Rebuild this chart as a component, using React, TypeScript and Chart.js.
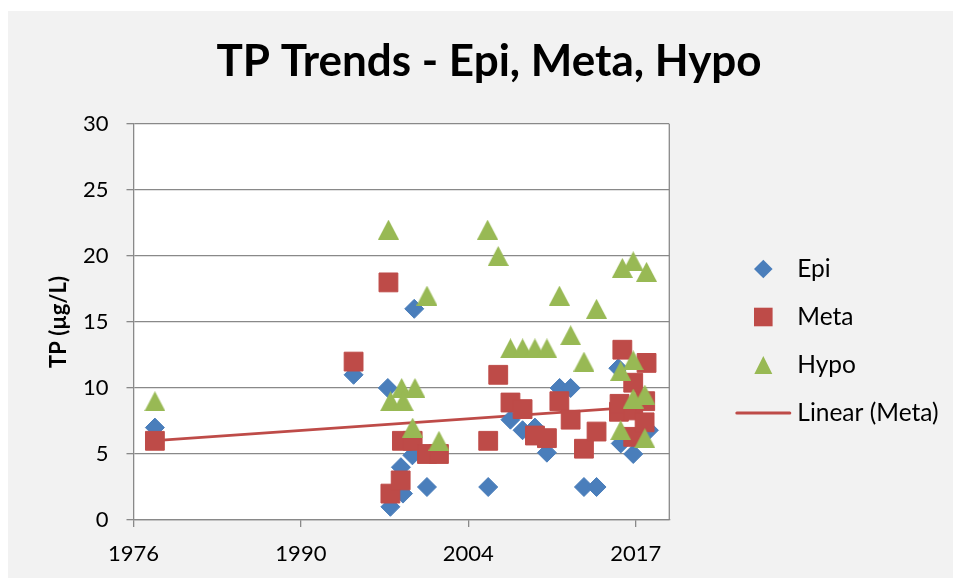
import React, { useEffect, useRef } from 'react';
import { Chart, registerables } from 'chart.js';

Chart.register(...registerables);

// ---------- data ----------
const TITLE = 'TP Trends - Epi, Meta, Hypo';
const Y_TITLE = 'TP (µg/L)';
const SERIES_NAMES = ['Epi', 'Meta', 'Hypo', 'Linear (Meta)'];

const epiYears = [1978.5, 1994.75, 1997.55, 1997.76, 1998.62, 1998.79, 1999.56, 1999.71, 2000.75, 2005.76, 2007.58, 2008.57, 2009.58, 2010.56, 2011.6, 2012.5, 2013.59, 2014.62, 2016.4, 2016.6, 2017.62, 2018.9];
const epiValues = [7, 11, 10, 1, 4, 2, 4.9, 16, 2.5, 2.5, 7.6, 6.8, 7.0, 5.1, 10, 10, 2.5, 2.5, 11.5, 5.8, 5.0, 6.8];

const metaYears = [1978.5, 1994.75, 1997.6, 1997.76, 1998.6, 1998.7, 1999.58, 2000.75, 2001.73, 2005.76, 2006.58, 2007.58, 2008.57, 2009.58, 2010.56, 2011.58, 2012.5, 2013.59, 2014.62, 2016.45, 2016.5, 2016.73, 2017.62, 2017.62, 2017.62, 2018.55, 2018.6, 2018.71];
const metaValues = [6, 12, 18, 2, 3, 6, 6, 5, 5, 6, 11, 8.9, 8.4, 6.4, 6.2, 9.0, 7.6, 5.4, 6.7, 8.2, 8.8, 12.9, 10.4, 8.3, 6.3, 7.4, 9.0, 11.9];

const hypoYears = [1978.5, 1997.6, 1997.77, 1998.68, 1998.81, 1999.58, 1999.77, 2000.75, 2001.73, 2005.71, 2006.58, 2007.58, 2008.57, 2009.58, 2010.56, 2011.58, 2012.5, 2013.59, 2014.62, 2016.59, 2016.59, 2016.73, 2017.62, 2017.62, 2017.62, 2018.57, 2018.57, 2018.71];
const hypoValues = [9, 22, 9, 10, 9, 7, 10, 17, 6, 22, 20, 13, 13, 13, 13, 17, 14, 12, 16, 11.3, 6.8, 19.1, 19.6, 12.1, 9.2, 9.5, 6.2, 18.8];

// x axis: date axis, 5000-day major unit
const X_MIN = 1976.75;
const X_MAX = 2020.57;
const X_STEP = 5000 / 365.25;
const xTickLabels = ['1976', '1990', '2004', '2017'];

const Y_MIN = 0;
const Y_MAX = 30;
const Y_STEP = 5;

// ---------- style ----------
const EPI_COLOR = '#4A7EBB';
const META_COLOR = '#BE4B48';
const HYPO_COLOR = '#98B954';
const GRID = '#898989';
const FONT = 'Lato';

function pts(xs: number[], ys: number[]) {
  return xs.map((x, i) => ({ x, y: ys[i] }));
}

function linearFit(xs: number[], ys: number[]) {
  const n = xs.length;
  const mx = xs.reduce((a, b) => a + b, 0) / n;
  const my = ys.reduce((a, b) => a + b, 0) / n;
  let sxy = 0;
  let sxx = 0;
  for (let i = 0; i < n; i++) {
    sxy += (xs[i] - mx) * (ys[i] - my);
    sxx += (xs[i] - mx) * (xs[i] - mx);
  }
  const b = sxy / sxx;
  const a = my - b * mx;
  const x0 = Math.min(...xs);
  const x1 = Math.max(...xs);
  return [
    { x: x0, y: a + b * x0 },
    { x: x1, y: a + b * x1 },
  ];
}

function makeTriangle(color: string, w: number, h: number) {
  const c = document.createElement('canvas');
  c.width = w;
  c.height = h;
  const g = c.getContext('2d')!;
  g.fillStyle = color;
  g.beginPath();
  g.moveTo(w / 2, 0);
  g.lineTo(w, h);
  g.lineTo(0, h);
  g.closePath();
  g.fill();
  return c;
}

const backgroundPlugin = {
  id: 'bgPlot',
  beforeDraw(chart: any) {
    const { ctx, chartArea, width, height } = chart;
    ctx.save();
    ctx.fillStyle = '#F2F2F2';
    ctx.fillRect(0, 0, width, height);
    ctx.fillStyle = '#FFFFFF';
    ctx.fillRect(chartArea.left, chartArea.top, chartArea.right - chartArea.left, chartArea.bottom - chartArea.top);
    ctx.restore();
  },
  beforeDatasetsDraw(chart: any) {
    const { ctx, chartArea } = chart;
    ctx.save();
    ctx.strokeStyle = GRID;
    ctx.lineWidth = 1.3;
    ctx.beginPath();
    ctx.moveTo(chartArea.right, chartArea.top);
    ctx.lineTo(chartArea.right, chartArea.bottom);
    ctx.stroke();
    ctx.restore();
  },
};

const legendPlugin = {
  id: 'sideLegend',
  afterDraw(chart: any) {
    const { ctx, chartArea } = chart;
    const cx = chartArea.right + 94;
    const textX = chartArea.right + 128;
    const y0 = chartArea.top + 145;
    const step = 48;
    chart.data.datasets.forEach((ds: any, i: number) => {
      const y = y0 + i * step;
      const kind = ds.legendKind;
      ctx.save();
      ctx.fillStyle = ds.legendColor;
      ctx.strokeStyle = ds.legendColor;
      ctx.beginPath();
      if (kind === 'diamond') {
        const r = 9.3;
        ctx.moveTo(cx, y - r);
        ctx.lineTo(cx + r, y);
        ctx.lineTo(cx, y + r);
        ctx.lineTo(cx - r, y);
        ctx.closePath();
        ctx.fill();
      } else if (kind === 'square') {
        const s = 18.6;
        ctx.rect(cx - s / 2, y - s / 2, s, s);
        ctx.fill();
      } else if (kind === 'triangle') {
        const s = 18;
        ctx.moveTo(cx, y - s / 2);
        ctx.lineTo(cx + s / 2, y + s / 2);
        ctx.lineTo(cx - s / 2, y + s / 2);
        ctx.closePath();
        ctx.fill();
      } else {
        ctx.lineWidth = 3;
        ctx.lineCap = 'round';
        ctx.moveTo(cx - 26.5, y);
        ctx.lineTo(cx + 26.5, y);
        ctx.stroke();
      }
      ctx.fillStyle = '#000000';
      ctx.font = `24.5px ${FONT}`;
      ctx.textBaseline = 'middle';
      ctx.textAlign = 'left';
      ctx.fillText(ds.label, textX, y);
      ctx.restore();
    });
  },
};

export default function App() {
  const ref = useRef<HTMLCanvasElement | null>(null);

  useEffect(() => {
    if (!ref.current) return;
    const tri = makeTriangle(HYPO_COLOR, 21, 20);
    const chart = new Chart(ref.current, {
      type: 'scatter',
      data: {
        datasets: [
          {
            label: SERIES_NAMES[0],
            data: pts(epiYears, epiValues),
            pointStyle: 'rectRot',
            pointRadius: 9.5,
            backgroundColor: EPI_COLOR,
            borderColor: EPI_COLOR,
            borderWidth: 1,
            order: 2,
            legendKind: 'diamond',
            legendColor: EPI_COLOR,
          } as any,
          {
            label: SERIES_NAMES[1],
            data: pts(metaYears, metaValues),
            pointStyle: 'rect',
            pointRadius: 13.3,
            backgroundColor: META_COLOR,
            borderColor: META_COLOR,
            borderWidth: 1,
            order: 1,
            legendKind: 'square',
            legendColor: META_COLOR,
          } as any,
          {
            label: SERIES_NAMES[2],
            data: pts(hypoYears, hypoValues),
            pointStyle: tri,
            pointRadius: 10,
            backgroundColor: HYPO_COLOR,
            borderColor: HYPO_COLOR,
            order: 0,
            legendKind: 'triangle',
            legendColor: HYPO_COLOR,
          } as any,
          {
            label: SERIES_NAMES[3],
            data: linearFit(metaYears, metaValues),
            showLine: true,
            pointRadius: 0,
            borderColor: META_COLOR,
            backgroundColor: META_COLOR,
            borderWidth: 2.75,
            order: 3,
            legendKind: 'line',
            legendColor: META_COLOR,
          } as any,
        ],
      },
      options: {
        animation: false,
        responsive: false,
        events: [],
        layout: { padding: { left: 17, right: 0, top: 0, bottom: 0 } },
        plugins: {
          legend: { display: false },
          tooltip: { enabled: false },
          title: {
            display: true,
            text: TITLE,
            color: '#000000',
            font: { family: FONT, size: 44, weight: 'bold' },
            padding: { top: 24, bottom: 36.2 },
          },
        },
        scales: {
          x: {
            type: 'linear',
            min: X_MIN,
            max: X_MAX,
            afterBuildTicks: (scale: any) => {
              scale.ticks = xTickLabels.map((_, i) => ({ value: X_MIN + i * X_STEP }));
            },
            afterFit: (scale: any) => {
              scale.height = 58;
            },
            ticks: {
              autoSkip: false,
              maxRotation: 0,
              padding: 14,
              color: '#000000',
              font: { family: FONT, size: 22 },
              callback: (_v: any, i: number) => xTickLabels[i],
            },
            grid: {
              drawOnChartArea: false,
              drawTicks: true,
              tickLength: 7,
              color: GRID,
              lineWidth: 1.3,
            },
            border: { display: true, color: GRID, width: 1.3 },
          },
          y: {
            type: 'linear',
            min: Y_MIN,
            max: Y_MAX,
            afterFit: (scale: any) => {
              scale.width = 108.5;
            },
            ticks: {
              stepSize: Y_STEP,
              padding: 18,
              color: '#000000',
              font: { family: FONT, size: 22 },
            },
            grid: {
              drawTicks: true,
              tickLength: 7,
              color: GRID,
              lineWidth: 1.3,
            },
            border: { display: true, color: GRID, width: 1.3 },
            title: {
              display: true,
              text: Y_TITLE,
              color: '#000000',
              font: { family: FONT, size: 22, weight: 'bold' },
              padding: { top: 21, bottom: 0 },
            },
          },
          y2: {
            type: 'linear',
            position: 'right',
            display: true,
            afterFit: (scale: any) => {
              scale.width = 283.7;
            },
            ticks: { display: false },
            grid: { display: false, drawTicks: false },
            border: { display: false },
          },
        },
      } as any,
      plugins: [backgroundPlugin, legendPlugin],
    });
    return () => chart.destroy();
  }, []);

  return (
    <div style={{ position: 'absolute', left: 8, top: 11, width: 945, height: 567, background: '#F2F2F2' }}>
      <canvas ref={ref} width={945} height={567} style={{ display: 'block' }} />
    </div>
  );
}
